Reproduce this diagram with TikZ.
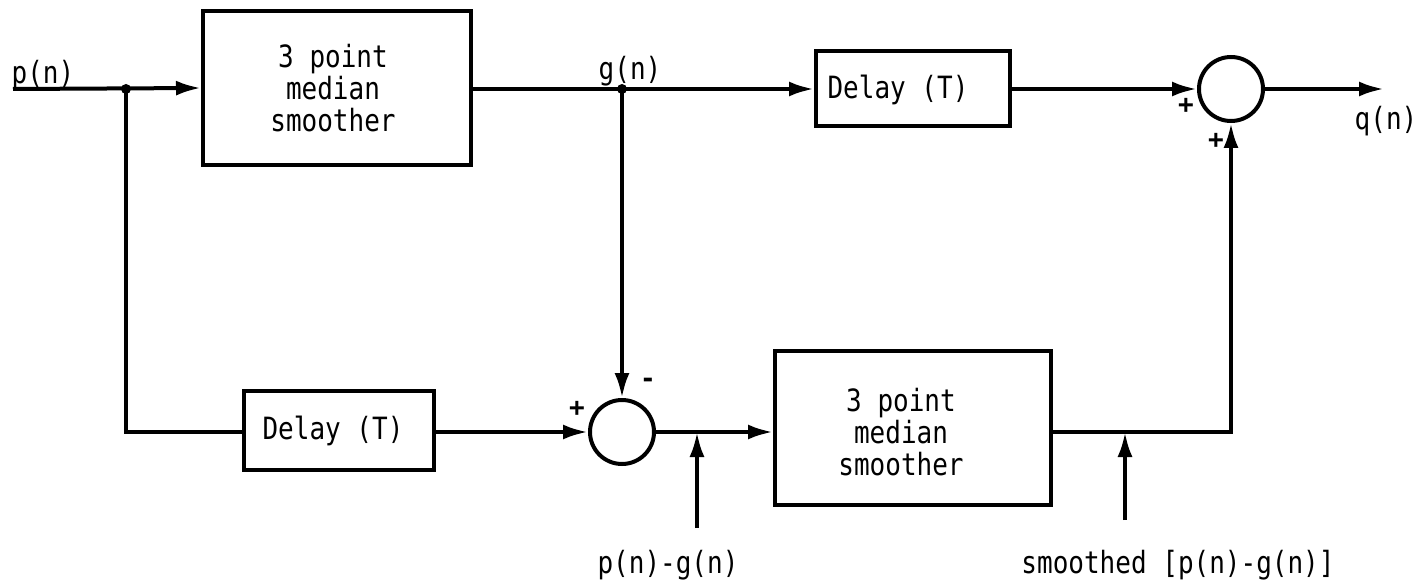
\documentclass[tikz,border=0pt]{standalone}
\usepackage{fontspec}
\usepackage{graphicx}
\newfontfamily\twfont{DejaVu Sans Mono}
\newcommand{\tl}[1]{\scalebox{1}[1.18]{#1}}
\usetikzlibrary{arrows.meta}
\begin{document}
\begin{tikzpicture}[x=1pt,y=-1pt,
  every node/.style={font=\twfont\fontsize{26}{32}\selectfont},
  wire/.style={line width=4pt},
  arr/.style={wire,-{Latex[length=25pt,width=15pt]}},
  block/.style={draw,line width=4pt,inner sep=0pt},
  btext/.style={inner sep=0pt,align=center},
  sumc/.style={draw,circle,line width=4pt,minimum size=64pt,inner sep=0pt},
  lbl/.style={inner sep=0pt,anchor=base},
  sgn/.style={inner sep=0pt,font=\twfont\bfseries\fontsize{26}{26}\selectfont},
  dot/.style={circle,fill,inner sep=0pt,minimum size=10pt}]
\useasboundingbox (0,0) rectangle (1424,583);
% blocks
\node[block,minimum width=268pt,minimum height=154pt] (med1) at (337,88) {};
\node[block,minimum width=194pt,minimum height=75pt] (delT) at (913,89) {};
\node[block,minimum width=190pt,minimum height=79pt] (delB) at (339,430) {};
\node[block,minimum width=276pt,minimum height=154pt] (med2) at (913,428) {};
\node[btext] (t1) at (333,88) {\tl{3 point}\\\tl{median}\\\tl{smoother}};
\node[btext] (t2) at (898,90) {\tl{Delay (T)}};
\node[btext] (t3) at (333,431) {\tl{Delay (T)}};
\node[btext] (t4) at (901,432) {\tl{3 point}\\\tl{median}\\\tl{smoother}};
\node[sumc] (sumT) at (1231,89) {};
\node[sumc] (sumB) at (622,432) {};
% junctions and free ends
\coordinate (in) at (13,89);
\node[dot] (j1) at (126,89) {};
\node[dot] (j2) at (622,89) {};
\coordinate (out) at (1384,89);
\coordinate (c1) at (126,432);
\coordinate (c2) at (1231,432);
\coordinate (pgtap) at (697,432);
\coordinate (pgend) at (697,528);
\coordinate (smtap) at (1125,432);
\coordinate (smend) at (1125,520);
% labels
\node[lbl] (lp) at (43,84) {\tl{p(n)}};
\node[lbl] (lg) at (630,80) {\tl{g(n)}};
\node[lbl] (lq) at (1386,130) {\tl{q(n)}};
\node[lbl] (lpg) at (668,573) {\tl{p(n)-g(n)}};
\node[lbl] (lsm) at (1178,573) {\tl{smoothed [p(n)-g(n)]}};
\node[sgn] (s1) at (1186,106) {+};
\node[sgn] (s2) at (1216,141) {+};
\node[sgn] (s3) at (577,409) {+};
\node[sgn] (s4) at (648,383) {-};
% connectors
\draw[arr] (in) -- (med1.west);
\draw[wire] (med1.east |- j2) -- (j2.center);
\draw[arr] (j2.center) -- (delT.west);
\draw[arr] (delT.east) -- (sumT.west);
\draw[arr] (sumT.east) -- (out);
\draw[wire] (j1.center) -- (c1) -- (delB.west |- c1);
\draw[arr] (delB.east |- c1) -- (sumB.west);
\draw[arr] (j2.center) -- (sumB.north);
\draw[arr] (sumB.east) -- (med2.west |- sumB);
\draw[arr] (med2.east |- c2) -- (c2) -- (sumT.south);
\draw[arr] (pgend) -- (pgtap);
\draw[arr] (smend) -- (smtap);
\end{tikzpicture}
\end{document}
